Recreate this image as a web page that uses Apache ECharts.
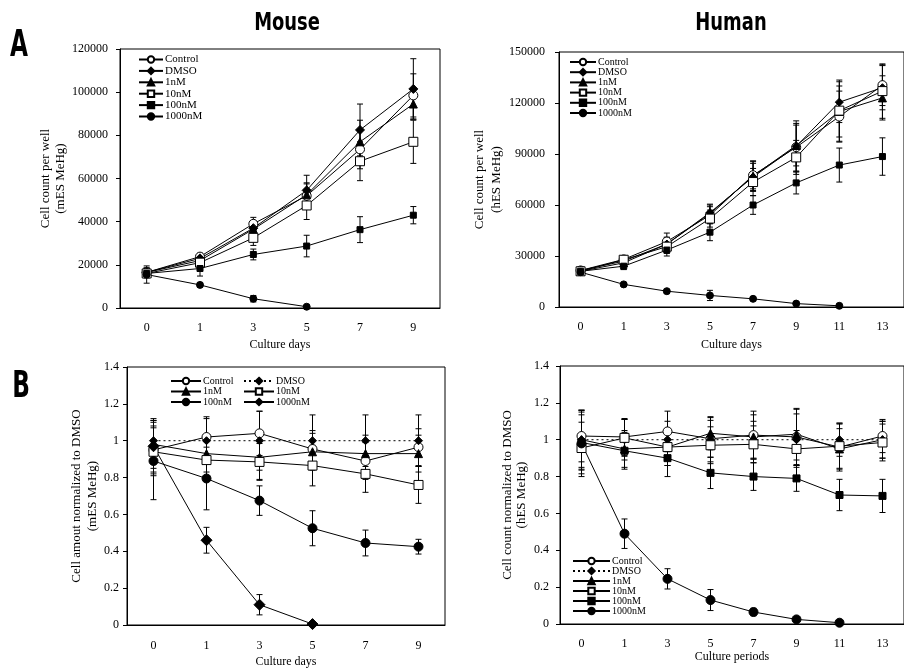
<!DOCTYPE html>
<html>
<head>
<meta charset="utf-8">
<script src="https://cdn.jsdelivr.net/npm/echarts@6/dist/echarts.min.js"></script>
<style>
html, body { margin: 0; padding: 0; background: #fff; }
#main { width: 904px; height: 669px; }
</style>
</head>
<body>
<div id="main"></div>
<script>
// categories
var mouseDays = ['0', '1', '3', '5', '7', '9'];
var humanDays = ['0', '1', '3', '5', '7', '9', '11', '13'];
var groups = ['Control', 'DMSO', '1nM', '10nM', '100nM', '1000nM'];

// A - mouse, cell count per well
var mA_control = [16500, 23800, 39000, 52000, 73500, 98500];
var mA_dmso    = [16500, 23000, 37000, 54500, 82500, 101500];
var mA_1nM     = [16500, 22000, 36500, 52500, 77000, 94500];
var mA_10nM    = [16000, 21000, 32500, 47500, 68000, 77000];
var mA_100nM   = [16000, 18300, 24800, 28700, 36300, 43000];
var mA_1000nM  = [15500, 10700, 4300, 600, null, null];
var mA_controlErr = [2000, 1500, 3000, 6000, 9000, 10000];
var mA_dmsoErr    = [2000, 1500, 3500, 7000, 12000, 14000];
var mA_1nMErr     = [2000, 1500, 3000, 5000, 10000, 7000];
var mA_10nMErr    = [2000, 1500, 3500, 6500, 9000, 10000];
var mA_100nMErr   = [2000, 3500, 2500, 5000, 6000, 4000];
var mA_1000nMErr  = [4000, 1000, 1500, 500, null, null];

// A - human, cell count per well
var hA_control = [21500, 28000, 38500, 54000, 77500, 94000, 112000, 130500];
var hA_dmso    = [21500, 27000, 37000, 55500, 76500, 94500, 120500, 129000];
var hA_1nM     = [21000, 26000, 37000, 55000, 77000, 95000, 115000, 123000];
var hA_10nM    = [21000, 27800, 35500, 52000, 73500, 88000, 115500, 127000];
var hA_100nM   = [21000, 24000, 33500, 44000, 60000, 73000, 83500, 88500];
var hA_1000nM  = [20500, 13300, 9300, 6800, 4800, 2000, 700, null];
var hA_controlErr = [2000, 2000, 5000, 5000, 8000, 14000, 15000, 12000];
var hA_dmsoErr    = [2000, 2000, 4000, 5000, 8000, 15000, 12000, 13000];
var hA_1nMErr     = [2000, 2000, 4000, 5000, 9000, 12000, 15000, 13000];
var hA_10nMErr    = [2000, 2000, 4000, 5000, 8000, 10000, 18000, 16000];
var hA_100nMErr   = [2000, 2000, 3500, 5000, 5500, 6500, 10000, 11000];
var hA_1000nMErr  = [2000, 1000, 1000, 3000, 1000, 800, 500, null];

// B - mouse, normalized to DMSO
var mB_control = [0.95, 1.02, 1.04, 0.955, 0.89, 0.965];
var mB_dmso    = [1, 1, 1, 1, 1, 1];
var mB_1nM     = [0.98, 0.93, 0.91, 0.94, 0.93, 0.93];
var mB_10nM    = [0.94, 0.895, 0.885, 0.865, 0.82, 0.76];
var mB_100nM   = [0.89, 0.795, 0.675, 0.525, 0.445, 0.425];
var mB_1000nM  = [0.97, 0.46, 0.11, 0.005, null, null];
var mB_controlErr = [0.13, 0.11, 0.12, 0.1, 0.1, 0.1];
var mB_dmsoErr    = [0.12, 0.12, 0.16, 0.14, 0.14, 0.14];
var mB_1nMErr     = [0.13, 0.1, 0.12, 0.1, 0.1, 0.1];
var mB_10nMErr    = [0.13, 0.1, 0.1, 0.11, 0.1, 0.1];
var mB_100nMErr   = [0.21, 0.17, 0.08, 0.095, 0.07, 0.04];
var mB_1000nMErr  = [0.14, 0.07, 0.055, 0.01, null, null];

// B - human, normalized to DMSO
var hB_control = [1.02, 1.015, 1.045, 1.005, 1.025, 1.015, 0.96, 1.02];
var hB_dmso    = [1, 1, 1, 1, 1, 1, 1, 1];
var hB_1nM     = [1.0, 0.95, 0.96, 1.035, 1.015, 1.03, 0.95, 1.0];
var hB_10nM    = [0.955, 1.01, 0.96, 0.97, 0.975, 0.95, 0.965, 0.985];
var hB_100nM   = [0.985, 0.94, 0.9, 0.82, 0.8, 0.79, 0.7, 0.695];
var hB_1000nM  = [0.98, 0.49, 0.245, 0.13, 0.065, 0.025, 0.007, null];
var hB_controlErr = [0.14, 0.1, 0.11, 0.1, 0.13, 0.15, 0.13, 0.09];
var hB_dmsoErr    = [0.15, 0.11, 0.1, 0.12, 0.1, 0.14, 0.09, 0.1];
var hB_1nMErr     = [0.16, 0.1, 0.1, 0.09, 0.12, 0.14, 0.11, 0.1];
var hB_10nMErr    = [0.14, 0.1, 0.1, 0.1, 0.1, 0.1, 0.12, 0.1];
var hB_100nMErr   = [0.15, 0.1, 0.1, 0.085, 0.075, 0.07, 0.085, 0.09];
var hB_1000nMErr  = [0.18, 0.08, 0.055, 0.057, 0.02, 0.01, 0.005, null];

var SERIF = "'Liberation Serif', 'DejaVu Serif', serif";
var NARROW = "'Liberation Sans Narrow', 'DejaVu Sans Condensed', 'DejaVu Sans', sans-serif";

// marker looks
var MK = {
  oCircle: { symbol: 'circle', fill: '#fff' },
  circle: { symbol: 'circle', fill: '#000' },
  diamond: { symbol: 'diamond', fill: '#000' },
  triangle: { symbol: 'triangle', fill: '#000' },
  oSquare: { symbol: 'rect', fill: '#fff' },
  square: { symbol: 'rect', fill: '#000' }
};

var series = [];

function errBar(params, api) {
  var x = api.value(0);
  var top = api.coord([x, api.value(2)]);
  var bot = api.coord([x, api.value(1)]);
  var w = 3;
  var st = { stroke: '#000', lineWidth: 1 };
  return {
    type: 'group',
    children: [
      { type: 'line', shape: { x1: top[0], y1: top[1], x2: bot[0], y2: bot[1] }, style: st },
      { type: 'line', shape: { x1: top[0] - w, y1: top[1], x2: top[0] + w, y2: top[1] }, style: st },
      { type: 'line', shape: { x1: bot[0] - w, y1: bot[1], x2: bot[0] + w, y2: bot[1] }, style: st }
    ]
  };
}

// one panel: 6 lines + their error bars
function addPanel(idx, tag, vals, errs, marks, sizes, dotted) {
  vals.forEach(function (v, k) {
    var m = MK[marks[k]];
    var e = errs[k];
    var bars = [];
    v.forEach(function (y, i) {
      if (y == null) return;
      bars.push([i, Math.max(0, y - e[i]), y + e[i]]);
    });
    series.push({
      type: 'custom',
      xAxisIndex: idx, yAxisIndex: idx,
      renderItem: errBar,
      data: bars,
      silent: true,
      z: 2
    });
    series.push({
      name: groups[k] + '#' + tag,
      type: 'line',
      xAxisIndex: idx, yAxisIndex: idx,
      data: v,
      symbol: m.symbol,
      symbolSize: sizes[k],
      showAllSymbol: true,
      itemStyle: { color: m.fill, borderColor: '#000', borderWidth: 1, opacity: 1 },
      lineStyle: { color: '#000', width: 1, type: (dotted && k === 1) ? [2, 3] : 'solid' },
      z: 3
    });
  });
}

addPanel(0, 'mA',
  [mA_control, mA_dmso, mA_1nM, mA_10nM, mA_100nM, mA_1000nM],
  [mA_controlErr, mA_dmsoErr, mA_1nMErr, mA_10nMErr, mA_100nMErr, mA_1000nMErr],
  ['oCircle', 'diamond', 'triangle', 'oSquare', 'square', 'circle'],
  [9, 9, 8, 9, 6, 7], false);
addPanel(1, 'hA',
  [hA_control, hA_dmso, hA_1nM, hA_10nM, hA_100nM, hA_1000nM],
  [hA_controlErr, hA_dmsoErr, hA_1nMErr, hA_10nMErr, hA_100nMErr, hA_1000nMErr],
  ['oCircle', 'diamond', 'triangle', 'oSquare', 'square', 'circle'],
  [9, 8, 8, 9, 6, 7], false);
addPanel(2, 'mB',
  [mB_control, mB_dmso, mB_1nM, mB_10nM, mB_100nM, mB_1000nM],
  [mB_controlErr, mB_dmsoErr, mB_1nMErr, mB_10nMErr, mB_100nMErr, mB_1000nMErr],
  ['oCircle', 'diamond', 'triangle', 'oSquare', 'circle', 'diamond'],
  [9, 8, 8, 9, 9, 11], true);
addPanel(3, 'hB',
  [hB_control, hB_dmso, hB_1nM, hB_10nM, hB_100nM, hB_1000nM],
  [hB_controlErr, hB_dmsoErr, hB_1nMErr, hB_10nMErr, hB_100nMErr, hB_1000nMErr],
  ['oCircle', 'diamond', 'triangle', 'oSquare', 'square', 'circle'],
  [9, 8, 8, 9, 7, 9], true);

function xAx(idx, cats, name, margin, gap) {
  return {
    type: 'category', gridIndex: idx, data: cats,
    name: name, nameLocation: 'middle', nameGap: gap,
    nameTextStyle: { fontFamily: SERIF, fontSize: 12, color: '#000' },
    axisLine: { lineStyle: { color: '#000', width: 1 } },
    axisTick: { inside: true, length: 4, lineStyle: { color: '#000' } },
    axisLabel: { fontFamily: SERIF, fontSize: 12, color: '#000', margin: margin },
    splitLine: { show: false }
  };
}

function yAx(idx, max, step, name, gap, margin, lh, fs) {
  return {
    type: 'value', gridIndex: idx, min: 0, max: max, interval: step,
    name: name, nameLocation: 'middle', nameGap: gap,
    nameTextStyle: { fontFamily: SERIF, fontSize: fs, lineHeight: lh, color: '#000' },
    axisLine: { show: true, lineStyle: { color: '#000', width: 1 } },
    axisTick: { show: true, length: 4, lineStyle: { color: '#000' } },
    axisLabel: {
      fontFamily: SERIF, fontSize: 12, color: '#000', margin: margin,
      formatter: function (v) { return String(+v.toFixed(1)); }
    },
    splitLine: { show: false }
  };
}

function legend(tag, names, left, top, w, gap, fs) {
  return {
    data: names.map(function (n) { return n + '#' + tag; }),
    formatter: function (n) { return n.split('#')[0]; },
    orient: 'vertical', left: left, top: top,
    itemWidth: w, itemHeight: 8, itemGap: gap, padding: 0,
    selectedMode: false,
    textStyle: { fontFamily: SERIF, fontSize: fs, color: '#000', padding: [0, 0, 0, -3] }
  };
}

// condensed bold heading, squeezed horizontally
function heading(text, x, y, size, sx) {
  return {
    type: 'text', x: x, y: y, scaleX: sx,
    style: { text: text, x: 0, y: 0, align: 'center', verticalAlign: 'middle', font: 'bold ' + size + 'px ' + NARROW, fill: '#000' }
  };
}

var grid = { show: true, borderColor: '#000', borderWidth: 1, backgroundColor: 'transparent' };

var option = {
  animation: false,
  backgroundColor: '#fff',
  grid: [
    Object.assign({ left: 120, top: 49, width: 320, height: 259 }, grid),
    Object.assign({ left: 559, top: 52, width: 352, height: 255 }, grid),
    Object.assign({ left: 127, top: 367, width: 318, height: 259 }, grid),
    Object.assign({ left: 560, top: 366, width: 352, height: 258 }, grid)
  ],
  xAxis: [
    xAx(0, mouseDays, 'Culture days', 14, 31),
    xAx(1, humanDays, 'Culture days', 14, 32),
    xAx(2, mouseDays, 'Culture days', 15, 31),
    xAx(3, humanDays, 'Culture periods', 14, 27)
  ],
  yAxis: [
    yAx(0, 120000, 20000, 'Cell count per well\n(mES MeHg)', 39, 12, 15, 13),
    yAx(1, 150000, 30000, 'Cell count per well\n(hES MeHg)', 52, 14, 17, 13),
    yAx(2, 1.4, 0.2, 'Cell amout normalized to DMSO\n(mES MeHg)', 26, 8, 16, 13),
    yAx(3, 1.4, 0.2, 'Cell count normalized to DMSO\n(hES MeHg)', 31, 11, 14, 13)
  ],
  legend: [
    legend('mA', groups, 138, 54, 24, 0.4, 11),
    legend('hA', groups, 569, 57, 26, 0.2, 10),
    legend('mB', ['Control', '1nM', '100nM'], 170, 376, 30, 0.5, 10),
    legend('mB', ['DMSO', '10nM', '1000nM'], 243, 376, 30, 0.5, 10),
    legend('hB', groups, 572, 556, 37, 0, 10)
  ],
  graphic: [
    heading('A', 19, 46, 38, 0.68),
    heading('B', 21, 387, 38, 0.68),
    heading('Mouse', 287, 24, 24, 0.83),
    heading('Human', 731, 24, 24, 0.83)
  ],
  series: series
};

var myChart = echarts.init(document.getElementById('main'));
myChart.setOption(option);
</script>
</body>
</html>
